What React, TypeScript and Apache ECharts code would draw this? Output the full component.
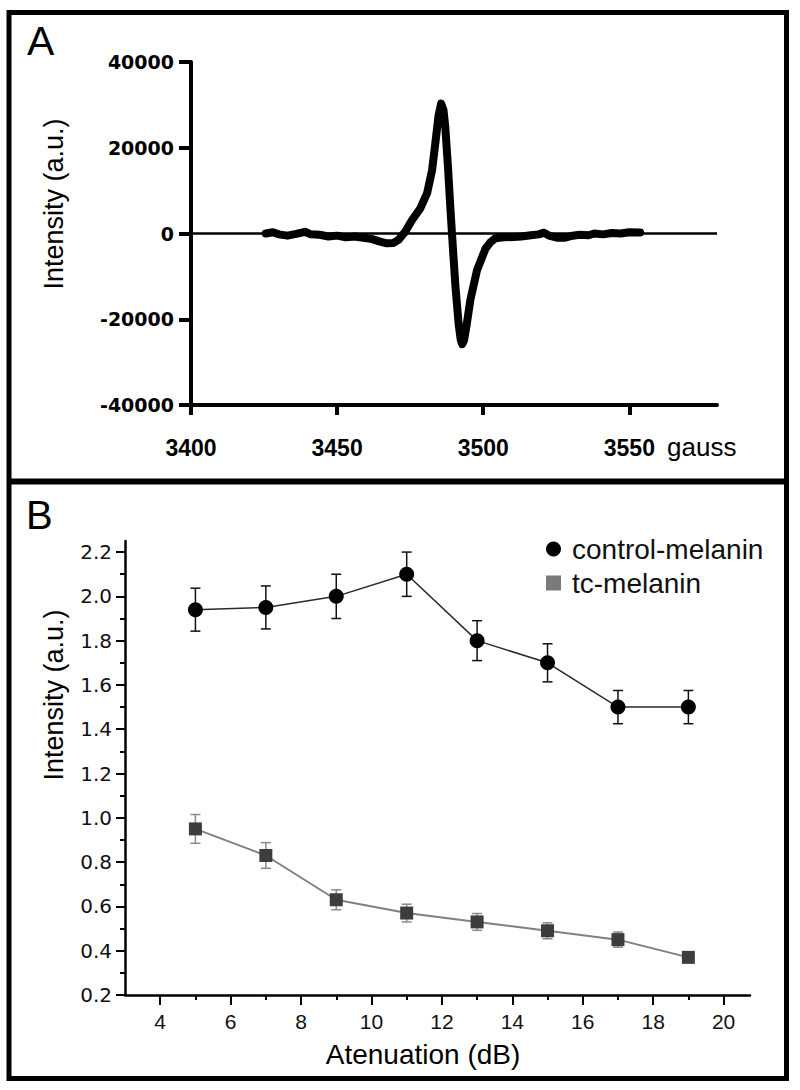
import React, { useEffect, useRef } from "react";
import * as echarts from "echarts";

// ---------- Panel A: EPR spectrum ----------
const gaussCurve: [number, number][] = [
  [3425.6, 0], [3428, 300], [3430, -200], [3433, -500], [3436, -100], [3439, 400],
  [3441, -200], [3444, -300], [3447, -700], [3450, -500], [3453, -900], [3456, -700],
  [3459, -1000], [3462, -1300], [3464.7, -1900], [3467, -2300], [3469.3, -2200],
  [3471, -1500], [3472.3, -400], [3473.3, 400], [3475.6, 3100], [3478.5, 5900],
  [3480.8, 9400], [3482.5, 14800], [3483.6, 21000], [3484.7, 27500], [3485.6, 30300],
  [3486.4, 28800], [3487.0, 25000], [3488.0, 14800], [3488.8, 5500], [3489.6, -3100],
  [3490.5, -12400], [3491.6, -21200], [3492.3, -24800], [3492.8, -25800], [3493.4, -25000],
  [3494.2, -21900], [3495.6, -15500], [3497.9, -8500], [3500.8, -3500], [3502.5, -2000],
  [3504.2, -1100], [3507, -900], [3510.5, -800], [3513, -700], [3516.3, -400],
  [3519, -200], [3520.8, 200], [3522.5, -500], [3525.5, -1000], [3527.7, -1000],
  [3530, -600], [3533, -300], [3536, -400], [3538, 0], [3541, -200], [3544, 100],
  [3547, 0], [3550, 300], [3553.7, 250],
];
const gaussTicks = [3400, 3450, 3500, 3550];

// ---------- Panel B: saturation ----------
const attenuation = [5, 7, 9, 11, 13, 15, 17, 19];
const controlMelanin = [1.94, 1.95, 2.0, 2.1, 1.8, 1.7, 1.5, 1.5];
const controlErr = [0.097, 0.097, 0.1, 0.1, 0.09, 0.086, 0.075, 0.075];
const tcMelanin = [0.95, 0.83, 0.63, 0.57, 0.53, 0.49, 0.45, 0.37];
const tcErr = [0.065, 0.058, 0.045, 0.04, 0.038, 0.036, 0.034, 0.022];
const attenuationTicks = [4, 6, 8, 10, 12, 14, 16, 18, 20];
const attenuationMinor = [5, 7, 9, 11, 13, 15, 17, 19];
const intensityTicksB = [0.2, 0.4, 0.6, 0.8, 1.0, 1.2, 1.4, 1.6, 1.8, 2.0, 2.2];
const intensityMinorB = [0.3, 0.5, 0.7, 0.9, 1.1, 1.3, 1.5, 1.7, 1.9, 2.1];

const SANS = '"Liberation Sans", Arial, sans-serif';

function errRender(color: string) {
  return (params: any, api: any) => {
    const x = api.value(0);
    const lo = api.value(1);
    const hi = api.value(2);
    const top = api.coord([x, hi]);
    const bot = api.coord([x, lo]);
    const hw = 5;
    const style = { stroke: color, lineWidth: 1.5 };
    return {
      type: "group",
      children: [
        { type: "line", shape: { x1: top[0], y1: top[1], x2: bot[0], y2: bot[1] }, style },
        { type: "line", shape: { x1: top[0] - hw, y1: top[1], x2: top[0] + hw, y2: top[1] }, style },
        { type: "line", shape: { x1: bot[0] - hw, y1: bot[1], x2: bot[0] + hw, y2: bot[1] }, style },
      ],
    };
  };
}

export default function App() {
  const ref = useRef<HTMLDivElement>(null);
  useEffect(() => {
    const chart = echarts.init(ref.current!, null, { renderer: "svg" });
    const controlErrData = attenuation.map((x, i) => [x, controlMelanin[i] - controlErr[i], controlMelanin[i] + controlErr[i]]);
    const tcErrData = attenuation.map((x, i) => [x, tcMelanin[i] - tcErr[i], tcMelanin[i] + tcErr[i]]);
    const option: any = {
      animation: false,
      backgroundColor: "#fff",
      grid: [
        { left: 191, right: 83, top: 62, bottom: 1090 - 405 },
        { left: 125, right: 50, top: 541, bottom: 95 },
      ],
      xAxis: [
        {
          type: "value", gridIndex: 0, min: 3400, max: 3580,
          axisLine: { show: true, onZero: false, lineStyle: { color: "#000", width: 4 } },
          axisTick: { show: true, customValues: gaussTicks, length: 10, lineStyle: { color: "#000", width: 4 } },
          axisLabel: {
            customValues: gaussTicks, margin: 31, fontSize: 23, fontWeight: "bold",
            fontFamily: SANS, color: "#000", formatter: (v: number) => String(v),
          },
          splitLine: { show: false },
        },
        {
          type: "value", gridIndex: 1, min: 3, max: 20.75,
          axisLine: { show: true, onZero: false, lineStyle: { color: "#000", width: 2.5 } },
          axisTick: { show: true, customValues: attenuationTicks, length: 10, lineStyle: { color: "#000", width: 2 } },
          axisLabel: {
            customValues: attenuationTicks, margin: 16, fontSize: 21,
            fontFamily: SANS, color: "#111", formatter: (v: number) => String(v),
          },
          splitLine: { show: false },
        },
        {
          type: "value", gridIndex: 1, min: 3, max: 20.75, position: "bottom",
          axisLine: { show: false, onZero: false },
          axisTick: { show: true, customValues: attenuationMinor, length: 5, lineStyle: { color: "#000", width: 2 } },
          axisLabel: { show: false },
          splitLine: { show: false },
        },
      ],
      yAxis: [
        {
          type: "value", gridIndex: 0, min: -40000, max: 40000, interval: 20000,
          axisLine: { show: true, onZero: false, lineStyle: { color: "#000", width: 4 } },
          axisTick: { show: true, length: 12, lineStyle: { color: "#000", width: 4 } },
          axisLabel: {
            margin: 17, fontSize: 19, fontWeight: "bold", fontFamily: '"DejaVu Sans", sans-serif',
            color: "#000", formatter: (v: number) => String(v),
          },
          splitLine: { show: false },
        },
        {
          type: "value", gridIndex: 1, min: 0.2, max: 2.25, position: "left",
          axisLine: { show: true, onZero: false, lineStyle: { color: "#000", width: 2.5 } },
          axisTick: { show: true, customValues: intensityTicksB, length: 9, lineStyle: { color: "#000", width: 2 } },
          axisLabel: {
            customValues: intensityTicksB, margin: 13, fontSize: 20,
            fontFamily: '"DejaVu Sans", sans-serif', color: "#111",
            formatter: (v: number) => v.toFixed(1),
          },
          splitLine: { show: false },
        },
        {
          type: "value", gridIndex: 1, min: 0.2, max: 2.25, position: "left",
          axisLine: { show: false, onZero: false },
          axisTick: { show: true, customValues: intensityMinorB, length: 5, lineStyle: { color: "#000", width: 2 } },
          axisLabel: { show: false },
          splitLine: { show: false },
        },
      ],
      legend: {
        data: [
          { name: "control-melanin", icon: "circle", itemStyle: { color: "#000" } },
          { name: "tc-melanin", icon: "rect", itemStyle: { color: "#7a7a7a" } },
        ],
        orient: "vertical", left: 546, top: 535, padding: 0,
        itemWidth: 15, itemHeight: 15, itemGap: 6,
        selectedMode: false,
        textStyle: { fontSize: 28, fontFamily: SANS, color: "#111", padding: [0, 0, 0, 6] },
      },
      series: [
        {
          type: "line", name: "spectrum", xAxisIndex: 0, yAxisIndex: 0,
          data: gaussCurve, symbol: "none", showSymbol: false, z: 3,
          lineStyle: { color: "#000", width: 8, cap: "round", join: "round" },
          markLine: {
            silent: true, symbol: ["none", "none"], label: { show: false },
            lineStyle: { color: "#000", width: 2.5, type: "solid" },
            emphasis: { disabled: true },
            data: [{ yAxis: 0 }],
          },
        },
        {
          type: "custom", name: "control-err", xAxisIndex: 1, yAxisIndex: 1,
          data: controlErrData, encode: { x: 0, y: [1, 2] }, z: 1,
          renderItem: errRender("#111"),
        },
        {
          type: "custom", name: "tc-err", xAxisIndex: 1, yAxisIndex: 1,
          data: tcErrData, encode: { x: 0, y: [1, 2] }, z: 1,
          renderItem: errRender("#8a8a8a"),
        },
        {
          type: "line", name: "control-melanin", xAxisIndex: 1, yAxisIndex: 1,
          data: attenuation.map((x, i) => [x, controlMelanin[i]]),
          symbol: "circle", symbolSize: 15, z: 3,
          itemStyle: { color: "#000" },
          lineStyle: { color: "#2a2a2a", width: 1.5 },
        },
        {
          type: "line", name: "tc-melanin", xAxisIndex: 1, yAxisIndex: 1,
          data: attenuation.map((x, i) => [x, tcMelanin[i]]),
          symbol: "rect", symbolSize: 13, z: 3,
          itemStyle: { color: "#3d3d3d" },
          lineStyle: { color: "#808080", width: 2 },
        },
      ],
      graphic: [
        { type: "rect", shape: { x: 9, y: 12.5, width: 777.5, height: 1066 }, style: { fill: "none", stroke: "#000", lineWidth: 5 }, silent: true },
        { type: "line", shape: { x1: 9, y1: 481.5, x2: 786.5, y2: 481.5 }, style: { stroke: "#000", lineWidth: 6 }, silent: true },
        { type: "text", x: 27, y: 41, style: { text: "A", fontSize: 41, fontFamily: SANS, fill: "#000", verticalAlign: "middle", textVerticalAlign: "middle" } },
        { type: "text", x: 26, y: 515, style: { text: "B", fontSize: 40, fontFamily: SANS, fill: "#000", verticalAlign: "middle", textVerticalAlign: "middle" } },
        { type: "text", x: 54, y: 204, rotation: Math.PI / 2, style: { text: "Intensity (a.u.)", fontSize: 27, fontFamily: SANS, fill: "#000", align: "center", textAlign: "center", verticalAlign: "middle", textVerticalAlign: "middle" } },
        { type: "text", x: 54, y: 695, rotation: Math.PI / 2, style: { text: "Intensity (a.u.)", fontSize: 27, fontFamily: SANS, fill: "#000", align: "center", textAlign: "center", verticalAlign: "middle", textVerticalAlign: "middle" } },
        { type: "text", x: 667, y: 447, style: { text: "gauss", fontSize: 26, fontFamily: SANS, fill: "#000", verticalAlign: "middle", textVerticalAlign: "middle" } },
        { type: "text", x: 423, y: 1054, style: { text: "Atenuation (dB)", fontSize: 28, fontFamily: SANS, fill: "#000", align: "center", textAlign: "center", verticalAlign: "middle", textVerticalAlign: "middle" } },
      ],
    };
    chart.setOption(option);
    return () => chart.dispose();
  }, []);
  return (
    <div
      ref={ref}
      style={{ position: "absolute", left: 0, top: 0, width: 800, height: 1090, background: "#fff" }}
    />
  );
}
